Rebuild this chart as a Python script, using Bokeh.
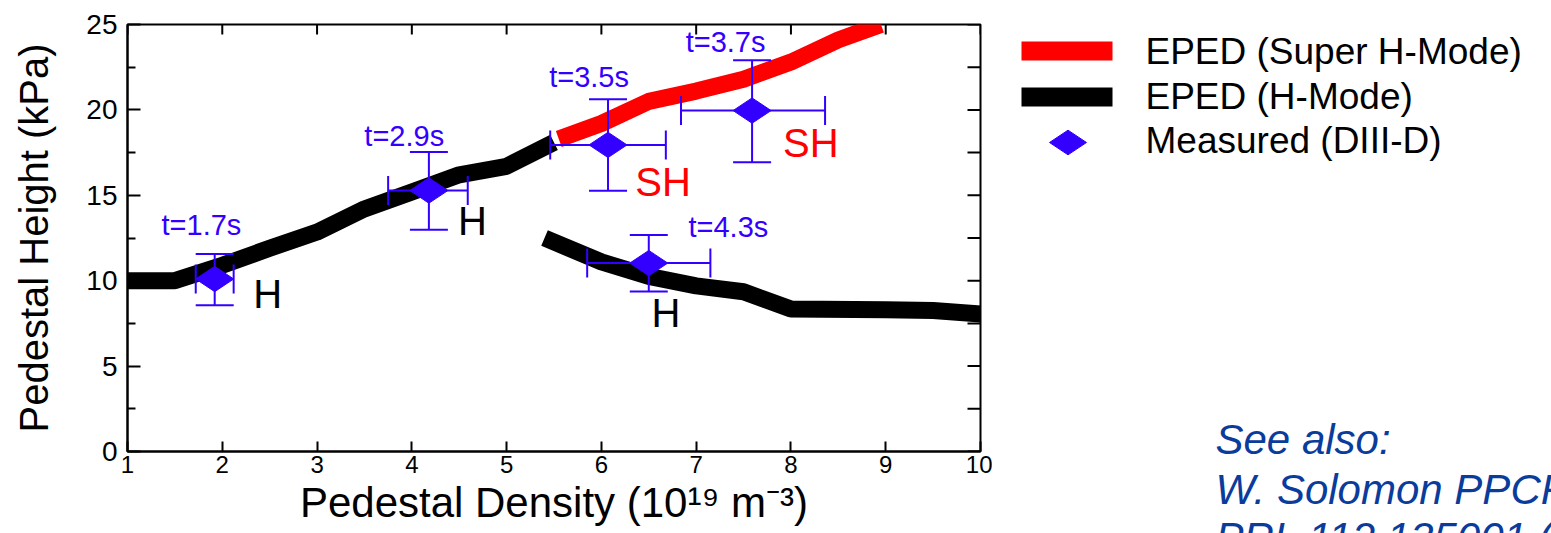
import numpy as np
from bokeh.plotting import figure
from bokeh.models import Range1d, FixedTicker, Whisker, TeeHead, ColumnDataSource
from bokeh.layouts import row
from bokeh.embed import file_html
from bokeh.resources import INLINE
from bokeh.core.properties import value

# ---------------- data ----------------
# EPED (H-Mode), low-density branch
h1_x = [1.0, 1.5, 2.0, 2.5, 3.0, 3.5, 4.0, 4.5, 5.0, 5.5]
h1_y = [10.0, 10.0, 10.9, 11.9, 12.85, 14.2, 15.2, 16.2, 16.7, 18.1]
# EPED (Super H-Mode)
sh_x = [5.55, 6.0, 6.5, 7.0, 7.5, 8.0, 8.5, 8.95]
sh_y = [18.3, 19.2, 20.5, 21.1, 21.8, 22.8, 24.1, 25.0]
# EPED (H-Mode), high-density branch
h2_x = [5.4, 6.0, 6.5, 7.0, 7.5, 8.0, 9.0, 9.5, 10.0]
h2_y = [12.5, 11.1, 10.25, 9.7, 9.35, 8.35, 8.3, 8.25, 8.05]

# Measured (DIII-D)
meas_x = [1.92, 4.18, 6.07, 7.59, 6.50]
meas_y = [10.1, 15.28, 17.95, 19.96, 11.03]
meas_x_lo = [1.72, 3.75, 5.46, 6.84, 5.85]
meas_x_hi = [2.12, 4.59, 6.68, 8.36, 7.15]
meas_y_lo = [8.56, 12.98, 15.26, 16.94, 9.37]
meas_y_hi = [11.56, 17.53, 20.63, 22.90, 12.67]

time_labels = ["t=1.7s", "t=2.9s", "t=3.5s", "t=3.7s", "t=4.3s"]
time_x = [1.78, 3.92, 5.87, 7.31, 7.34]
time_y = [13.27, 18.5, 21.9, 24.0, 13.13]

mode_labels = ["H", "H", "SH", "SH", "H"]
mode_x = [2.48, 4.64, 6.65, 8.21, 6.68]
mode_y = [9.2, 13.5, 15.8, 18.04, 8.1]

x_ticks = [1, 2, 3, 4, 5, 6, 7, 8, 9, 10]
y_major = [0, 5, 10, 15, 20, 25]
y_minor = [2.5, 7.5, 12.5, 17.5, 22.5]

legend_labels = ["EPED (Super H-Mode)", "EPED (H-Mode)", "Measured (DIII-D)"]
note_lines = ["See also:", "W. Solomon PPCF", "PRL 112 135001 (2014)"]

# ---------------- styles ----------------
FONT = "Liberation Sans"
BLUE = "#3300ff"
RED = "#ff0000"
NOTE = "#0a3c9c"
X0, X1, Y0, Y1 = 1, 10, 0, 25
TOP_TICK = 10 / 17.08      # 10 px in y data units
RIGHT_TICK = 13 / 94.8     # 13 px in x data units

p = figure(width=992, height=533, x_range=Range1d(X0, X1), y_range=Range1d(Y0, Y1),
           output_backend="svg", toolbar_location=None, frame_align=False,
           min_border_left=127, min_border_right=12, min_border_top=24, min_border_bottom=82,
           outline_line_color="black", outline_line_width=2, background_fill_color="white")
p.grid.visible = False

xb = p.xaxis[0]
xb.ticker = FixedTicker(ticks=x_ticks)
xb.major_tick_in = 10
xb.major_tick_out = 0
xb.minor_tick_in = 0
xb.minor_tick_out = 0
xb.major_tick_line_width = 2
xb.axis_line_width = 2
xb.major_label_text_font = FONT
xb.major_label_text_font_size = "24px"
xb.major_label_text_color = "black"
xb.major_label_standoff = 4
xb.axis_label = "Pedestal Density (10¹⁹ m⁻³)"
xb.axis_label_text_font = FONT
xb.axis_label_text_font_size = "42px"
xb.axis_label_text_font_style = "normal"
xb.axis_label_text_color = "black"
xb.axis_label_standoff = 3

yl = p.yaxis[0]
yl.ticker = FixedTicker(ticks=y_major, minor_ticks=y_minor)
yl.major_tick_in = 13
yl.major_tick_out = 0
yl.minor_tick_in = 8
yl.minor_tick_out = 0
yl.major_tick_line_width = 2
yl.minor_tick_line_width = 2
yl.axis_line_width = 2
yl.major_label_text_font = FONT
yl.major_label_text_font_size = "28px"
yl.major_label_text_color = "black"
yl.major_label_standoff = 10
yl.axis_label = "Pedestal Height (kPa)"
yl.axis_label_text_font = FONT
yl.axis_label_text_font_size = "40px"
yl.axis_label_text_font_style = "normal"
yl.axis_label_text_color = "black"
yl.axis_label_standoff = 27

# inward ticks on the top and right frame edges (from the same tick lists)
p.segment(x0=x_ticks, y0=[Y1] * len(x_ticks), x1=x_ticks, y1=[Y1 - TOP_TICK] * len(x_ticks),
          line_color="black", line_width=2)
y_all = sorted(y_major + y_minor)
p.segment(x0=[X1] * len(y_all), y0=y_all, x1=[X1 - RIGHT_TICK] * len(y_all), y1=y_all,
          line_color="black", line_width=2)

LW = 17
p.line(h1_x, h1_y, line_color="black", line_width=LW, line_join="round", line_cap="butt")
p.line(sh_x, sh_y, line_color=RED, line_width=LW, line_join="round", line_cap="butt")
p.line(h2_x, h2_y, line_color="black", line_width=LW, line_join="round", line_cap="butt")

src = ColumnDataSource(dict(x=meas_x, y=meas_y, xl=meas_x_lo, xh=meas_x_hi,
                            yl=meas_y_lo, yh=meas_y_hi))
wy = Whisker(source=src, base="x", lower="yl", upper="yh", dimension="height",
             line_color=BLUE, line_width=2, level="annotation",
             upper_head=TeeHead(size=38, line_color=BLUE, line_width=2),
             lower_head=TeeHead(size=38, line_color=BLUE, line_width=2))
wx = Whisker(source=src, base="y", lower="xl", upper="xh", dimension="width",
             line_color=BLUE, line_width=2, level="annotation",
             upper_head=TeeHead(size=29, line_color=BLUE, line_width=2),
             lower_head=TeeHead(size=29, line_color=BLUE, line_width=2))
p.add_layout(wy)
p.add_layout(wx)
p.scatter(x="x", y="y", source=src, marker="diamond", size=38, angle=np.pi / 2,
          fill_color=BLUE, line_color=BLUE)

p.text(x=time_x, y=time_y, text=time_labels, text_font=value(FONT), text_font_size="29px",
       text_color=BLUE, text_align="center", text_baseline="middle")
mode_src = ColumnDataSource(dict(x=mode_x, y=mode_y, text=mode_labels,
                                 color=["black", "black", RED, RED, "black"]))
p.text(x="x", y="y", text="text", source=mode_src, text_font=value(FONT), text_font_size="40px",
       text_color="color", text_align="center", text_baseline="middle")

# ---------------- legend + note panel (pixel-like coordinates) ----------------
W2, H2 = 559, 533
p2 = figure(width=W2, height=H2, x_range=Range1d(0, W2), y_range=Range1d(0, H2),
            output_backend="svg", toolbar_location=None, frame_align=False,
            min_border_left=0, min_border_right=0, min_border_top=0, min_border_bottom=0,
            x_axis_type=None, y_axis_type=None, outline_line_color=None)
p2.grid.visible = False

p2.hbar(y=[482.5], left=[29], right=[120], height=19, fill_color=RED, line_color=None)
p2.hbar(y=[436.5], left=[29], right=[120], height=19, fill_color="black", line_color=None)
p2.scatter(x=[75.5], y=[391], marker="diamond", size=37, angle=np.pi / 2,
           fill_color=BLUE, line_color=BLUE)
p2.text(x=[153] * 3, y=[482, 437, 393], text=legend_labels, text_font=value(FONT),
        text_font_size="37px", text_color="black", text_align="left", text_baseline="middle")

p2.text(x=[223] * 3, y=[94, 44, -4], text=note_lines, text_font=value(FONT),
        text_font_size="42px", text_font_style="italic", text_color=NOTE,
        text_align="left", text_baseline="middle")

layout = row(p, p2)
open("out.html", "w").write(file_html(layout, INLINE))
